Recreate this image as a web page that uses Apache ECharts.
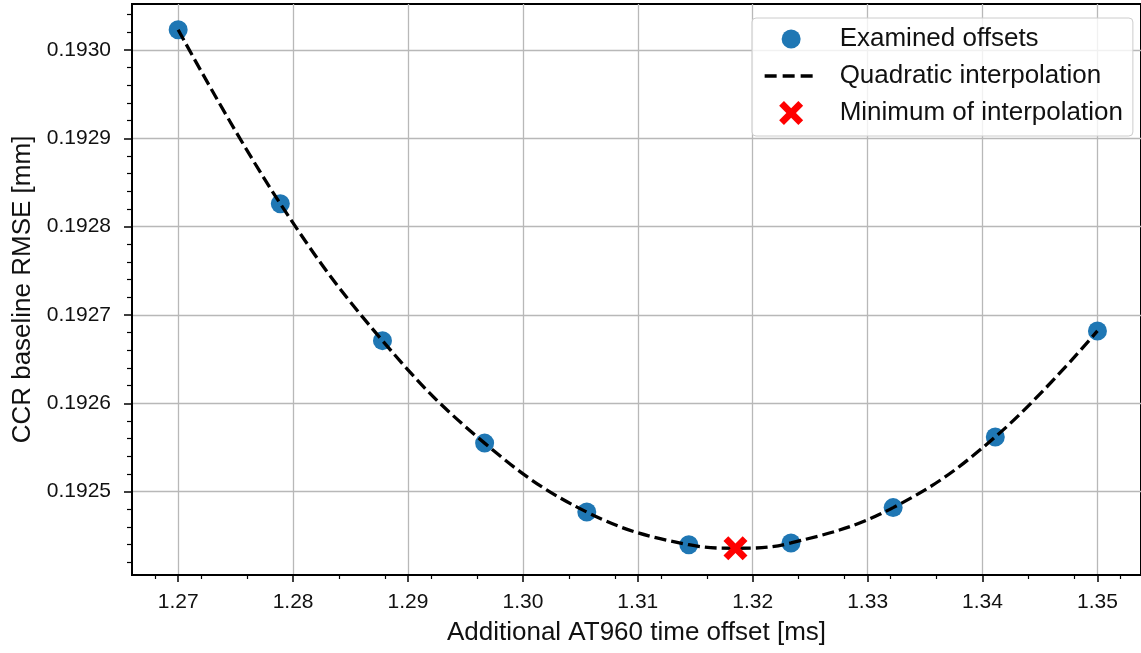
<!DOCTYPE html>
<html>
<head>
<meta charset="utf-8">
<script src="https://cdn.jsdelivr.net/npm/echarts@6/dist/echarts.min.js"></script>
<style>
  html, body { margin: 0; padding: 0; background: #fff; }
  #chart { width: 1141px; height: 653px; }
</style>
</head>
<body>
<div id="chart"></div>
<script>
// examined offsets (ms) and RMSE (mm)
var offsets = [1.27, 1.27889, 1.28778, 1.29667, 1.30556, 1.31444, 1.32333, 1.33222, 1.34111, 1.35];
var rmse = [0.193023, 0.192826, 0.192671, 0.192555, 0.192477, 0.192440, 0.192442, 0.192482, 0.192562, 0.192682];

// dashed quadratic curve
var curveX = [1.27, 1.27889, 1.28778, 1.29667, 1.30556, 1.31444, 1.3185, 1.32333, 1.33222, 1.34111, 1.35];
var curveY = [0.193023, 0.192826, 0.192671, 0.192555, 0.192477, 0.192440, 0.192436, 0.192442, 0.192482, 0.192562, 0.192682];

// minimum of the interpolation
var minX = [1.3185];
var minY = [0.192436];

var xTicks = [1.27, 1.28, 1.29, 1.30, 1.31, 1.32, 1.33, 1.34, 1.35];
var yTicks = [0.1925, 0.1926, 0.1927, 0.1928, 0.1929, 0.1930];

function pairs(xs, ys) {
    return xs.map(function (x, i) { return [x, ys[i]]; });
}

var font = 'Liberation Sans, Arial, sans-serif';
var crossPath = 'path://M0,0 M24,24 M4.8,0 L12,7.2 L19.2,0 L24,4.8 L16.8,12 L24,19.2 L19.2,24 L12,16.8 L4.8,24 L0,19.2 L7.2,12 L0,4.8 Z';
var dotPath = 'path://M0,0 M24,24 M21.5,12 A9.5,9.5 0 1 1 2.5,12 A9.5,9.5 0 1 1 21.5,12 Z';

var chart = echarts.init(document.getElementById('chart'));

var option = {
    backgroundColor: '#fff',
    animation: false,
    grid: {
        left: 132, top: 4, width: 1012, height: 571,
        show: true, borderColor: '#000', borderWidth: 2, backgroundColor: 'transparent'
    },
    legend: {
        orient: 'vertical',
        left: 752, top: 18,
        padding: [8, 10, 10, 11],
        itemWidth: 53, itemHeight: 24, itemGap: 11,
        backgroundColor: 'rgba(255,255,255,0.8)',
        borderColor: '#cccccc', borderWidth: 1, borderRadius: 4,
        textStyle: { fontFamily: font, fontSize: 26, lineHeight: 26, color: '#111', padding: [0, 0, 0, 17] },
        data: [
            { name: 'Examined offsets', icon: dotPath },
            { name: 'Quadratic interpolation', itemStyle: { opacity: 0 }, lineStyle: { width: 3.3, type: [12, 6] } },
            { name: 'Minimum of interpolation', icon: crossPath }
        ]
    },
    xAxis: {
        type: 'value',
        min: 1.265983, max: 1.35379,
        name: 'Additional AT960 time offset [ms]',
        nameLocation: 'middle', nameGap: 45,
        nameTextStyle: { fontFamily: font, fontSize: 26, color: '#111' },
        axisLine: { lineStyle: { color: '#000', width: 2 } },
        axisTick: { customValues: xTicks, length: 7, lineStyle: { color: '#000', width: 1.5 } },
        minorTick: { show: true, splitNumber: 5, length: 4, lineStyle: { color: '#000', width: 1.2 } },
        axisLabel: {
            customValues: xTicks, margin: 17,
            fontFamily: font, fontSize: 21, color: '#111',
            formatter: function (v) { return v.toFixed(2); }
        },
        splitLine: { show: true, lineStyle: { color: '#b8b8b8', width: 1.3 } }
    },
    yAxis: {
        type: 'value',
        min: 0.1924057, max: 0.1930521,
        name: 'CCR baseline RMSE [mm]',
        nameLocation: 'middle', nameGap: 92,
        nameTextStyle: { fontFamily: font, fontSize: 26, color: '#111' },
        axisLine: { lineStyle: { color: '#000', width: 2 } },
        axisTick: { customValues: yTicks, length: 8, lineStyle: { color: '#000', width: 1.5 } },
        minorTick: { show: true, splitNumber: 5, length: 5, lineStyle: { color: '#000', width: 1.2 } },
        axisLabel: {
            customValues: yTicks, margin: 21,
            fontFamily: font, fontSize: 21, color: '#111',
            formatter: function (v) { return v.toFixed(4); }
        },
        splitLine: { show: true, lineStyle: { color: '#b8b8b8', width: 1.3 } }
    },
    series: [
        {
            name: 'Examined offsets',
            type: 'scatter',
            z: 2,
            symbol: 'circle',
            symbolSize: 19,
            itemStyle: { color: '#1f77b4', opacity: 1 },
            data: pairs(offsets, rmse)
        },
        {
            name: 'Quadratic interpolation',
            type: 'line',
            z: 3,
            symbol: 'none',
            showSymbol: false,
            smooth: 0.4,
            itemStyle: { color: '#000' },
            lineStyle: { color: '#000', width: 3.3, type: [12, 5] },
            data: pairs(curveX, curveY)
        },
        {
            name: 'Minimum of interpolation',
            type: 'scatter',
            z: 4,
            symbol: crossPath,
            symbolSize: 24,
            itemStyle: { color: '#ff0000', opacity: 1 },
            data: pairs(minX, minY)
        }
    ]
};

chart.setOption(option);
</script>
</body>
</html>
